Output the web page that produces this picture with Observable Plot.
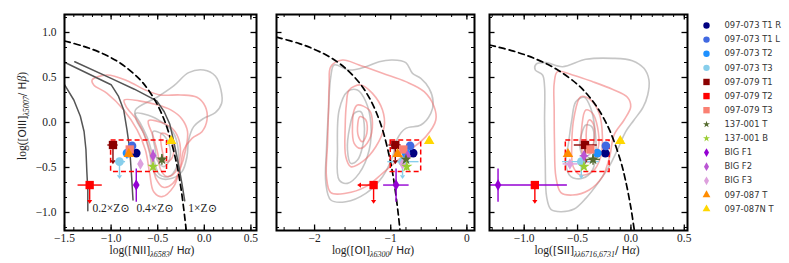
<!DOCTYPE html>
<html><head><meta charset="utf-8">
<script src="https://cdn.jsdelivr.net/npm/d3@7"></script>
<script src="https://cdn.jsdelivr.net/npm/@observablehq/plot@0.6"></script>
<style>
body{margin:0;background:#fff;}
#chart{position:relative;width:789px;height:263px;overflow:hidden;background:#fff;}
#chart svg{position:absolute;top:0;overflow:visible;}
</style></head><body><div id="chart"></div>
<script>
// ---------------- data ----------------
const names = ["097-073 T1 R","097-073 T1 L","097-073 T2","097-073 T3","097-079 T1","097-079 T2","097-079 T3","137-001 T","137-001 B","BIG F1","BIG F2","BIG F3","097-087 T","097-087N T"];
const colors = ["#000080","#4169e1","#1e90ff","#87ceeb","#8b0000","#ff0000","#fa8072","#556b2f","#9acd32","#9400d3","#ba55d3","#dda0dd","#ff8c00","#ffd700"];
const shapes = ["circle","circle","circle","circle","square","square","square","star","star","diamond","diamond","diamond","triangle","triangle"];

const oiii = [-0.34,-0.26,-0.34,-0.435,-0.25,-0.695,-0.30,-0.41,-0.49,-0.695,-0.37,-0.46,-0.35,-0.205];
const nii  = [-0.73,-0.775,-0.83,-0.91,-0.98,-1.23,-0.80,-0.455,-0.55,-0.73,-0.55,-0.685,-0.81,-0.355];
const oi   = [-0.705,-0.745,-0.80,-0.845,-0.94,-1.225,-0.835,-0.80,-0.79,-0.93,-0.78,-0.845,-0.91,-0.495];
const sii  = [-0.24,-0.235,-0.315,-0.465,-0.43,-0.90,-0.38,-0.355,-0.44,-1.245,-0.44,-0.572,-0.59,-0.10];

const nii_xerr = [[-0.76,-0.70],null,[-0.86,-0.80],[-0.97,-0.85],[-1.04,-0.93],[-1.36,-1.10],null,[-0.49,-0.42],[-0.57,-0.53],null,null,null,null,null];
const nii_yerr = [[-0.37,-0.31],null,[-0.40,-0.30],null,null,null,null,[-0.47,-0.35],[-0.52,-0.46],[-0.88,-0.51],[-0.44,-0.30],[-0.50,-0.42],[-0.39,-0.31],null];
const oi_xerr  = [null,null,null,[-1.045,-0.635],[-1.03,-0.87],null,null,[-0.84,-0.76],null,[-1.10,-0.765],null,null,null,null];
const oi_yerr  = [null,null,null,null,null,null,null,[-0.46,-0.36],[-0.53,-0.46],[-0.88,-0.51],null,null,null,null];
const sii_xerr = [null,null,[-0.35,-0.28],[-0.645,-0.30],[-0.535,-0.32],null,null,[-0.42,-0.29],null,[-1.4,-0.60],[-0.48,-0.40],[-0.64,-0.50],null,[-0.13,-0.07]];
const sii_yerr = [null,null,null,null,null,null,null,[-0.47,-0.35],null,[-0.88,-0.51],[-0.42,-0.32],null,null,[-0.24,-0.17]];

const ulim_idx = [3,4,5];
const ulim_end = [-0.585,-0.42,-0.86];
const oi_xlim_idx = [5];
const oi_xlim_end = [-1.39];

// demarcation curves
const kauffmann = [[-1.5,0.906],[-1.3,0.848],[-1.1,0.770],[-0.9,0.658],[-0.7,0.487],[-0.6,0.362],[-0.5,0.191],[-0.4,-0.056],[-0.3,-0.443],[-0.25,-0.733],[-0.2,-1.14],[-0.194,-1.2]];
const kewley_oi = [[-2.5,0.948],[-2.2,0.877],[-2.0,0.812],[-1.8,0.727],[-1.6,0.607],[-1.4,0.429],[-1.3,0.302],[-1.2,0.133],[-1.1,-0.101],[-1.0,-0.450],[-0.95,-0.698],[-0.9,-1.025],[-0.878,-1.2]];
const kewley_sii = [[-1.325,0.861],[-1.1,0.793],[-0.9,0.710],[-0.7,0.594],[-0.5,0.422],[-0.4,0.300],[-0.3,0.139],[-0.2,-0.085],[-0.1,-0.414],[-0.05,-0.646],[0.0,-0.95],[0.032,-1.2]];

// metallicity tracks
const track_02 = [[-1.5,0.42],[-1.40,0.25],[-1.33,0.07],[-1.29,-0.1],[-1.27,-0.3],[-1.26,-0.55],[-1.25,-0.75],[-1.25,-0.98]];
const track_04 = [[-1.5,0.67],[-1.2,0.52],[-1.0,0.42],[-0.92,0.29],[-0.865,0.14],[-0.83,-0.08],[-0.80,-0.3],[-0.78,-0.6],[-0.765,-0.86]];
const track_1  = [[-1.39,0.675],[-1.0,0.49],[-0.75,0.37],[-0.51,0.24],[-0.43,0.12],[-0.37,-0.02],[-0.33,-0.2],[-0.28,-0.45],[-0.24,-0.68],[-0.21,-0.87]];
const zlabel_text = ["0.2×Z⊙","0.4×Z⊙","1×Z⊙"];
const zlabel_x = [-1.2,-0.728,-0.171];
const zlabel_y = [-0.95,-0.95,-0.95];

// SDSS contours
const nii_red_a = [[-1.204,0.472],[-1.043,0.528],[-0.829,0.465],[-0.632,0.361],[-0.471,0.306],[-0.257,0.306],[-0.079,0.28],[0.011,0.176],[0.029,0.028],[-0.025,-0.102],[-0.132,-0.176],[-0.221,-0.306],[-0.257,-0.491],[-0.329,-0.713],[-0.454,-0.824],[-0.543,-0.769],[-0.586,-0.565],[-0.632,-0.306],[-0.721,-0.083],[-0.864,0.139],[-1.043,0.324],[-1.186,0.417]];
const nii_red_b = [[-0.86,0.25],[-0.7,0.24],[-0.52,0.2],[-0.36,0.14],[-0.24,0.04],[-0.18,-0.1],[-0.2,-0.3],[-0.26,-0.52],[-0.34,-0.68],[-0.44,-0.72],[-0.52,-0.62],[-0.56,-0.42],[-0.62,-0.2],[-0.72,0.02],[-0.84,0.18]];
const nii_red_c = [[-0.6,0.02],[-0.46,0.0],[-0.34,-0.07],[-0.27,-0.2],[-0.26,-0.38],[-0.31,-0.55],[-0.4,-0.6],[-0.47,-0.52],[-0.5,-0.34],[-0.55,-0.15]];
const nii_red_d = [[-0.46,-0.12],[-0.38,-0.15],[-0.33,-0.26],[-0.35,-0.4],[-0.41,-0.44],[-0.45,-0.32]];
const nii_gray_a = [[-0.739,0.139],[-0.507,0.28],[-0.329,0.406],[-0.168,0.554],[-0.007,0.583],[0.118,0.517],[0.179,0.361],[0.186,0.213],[0.118,0.109],[-0.007,0.046],[-0.114,-0.046],[-0.168,-0.194],[-0.186,-0.38],[-0.239,-0.546],[-0.346,-0.62],[-0.471,-0.62],[-0.55,-0.528],[-0.586,-0.343],[-0.65,-0.12],[-0.729,0.028]];
const nii_gray_b = [[-0.74,0.1],[-0.6,0.08],[-0.45,0.0],[-0.34,-0.1],[-0.28,-0.3],[-0.3,-0.5],[-0.38,-0.6],[-0.48,-0.58],[-0.54,-0.42],[-0.6,-0.2],[-0.68,-0.02]];
const nii_gray_c = [[-0.55,-0.1],[-0.45,-0.13],[-0.38,-0.24],[-0.37,-0.4],[-0.43,-0.49],[-0.5,-0.43],[-0.53,-0.28]];

const oi_red_a = [[-1.787,0.62],[-1.633,0.694],[-1.415,0.639],[-1.108,0.546],[-0.802,0.454],[-0.561,0.343],[-0.43,0.176],[-0.408,0.028],[-0.539,-0.157],[-0.802,-0.343],[-1.108,-0.565],[-1.327,-0.713],[-1.59,-0.787],[-1.787,-0.78],[-1.844,-0.602],[-1.83,-0.232],[-1.817,0.139],[-1.808,0.435]];
const oi_red_b = [[-1.546,0.361],[-1.393,0.417],[-1.24,0.324],[-1.108,0.139],[-1.086,-0.046],[-1.196,-0.269],[-1.371,-0.435],[-1.524,-0.491],[-1.59,-0.38],[-1.598,-0.046],[-1.581,0.213]];
const oi_red_c = [[-1.437,0.194],[-1.283,0.139],[-1.24,-0.009],[-1.283,-0.194],[-1.393,-0.287],[-1.48,-0.231],[-1.502,-0.009],[-1.48,0.139]];
const oi_red_d = [[-1.406,0.065],[-1.327,0.028],[-1.314,-0.12],[-1.371,-0.213],[-1.423,-0.157],[-1.432,-0.009]];
const oi_gray_a = [[-1.743,0.639],[-1.546,0.583],[-1.327,0.62],[-1.152,0.676],[-0.977,0.694],[-0.802,0.665],[-0.714,0.546],[-0.605,0.491],[-0.496,0.38],[-0.443,0.231],[-0.474,0.102],[-0.605,-0.028],[-0.802,-0.065],[-0.911,-0.176],[-0.977,-0.38],[-1.108,-0.602],[-1.327,-0.787],[-1.59,-0.88],[-1.787,-0.861],[-1.852,-0.676],[-1.844,-0.306],[-1.817,0.139],[-1.787,0.509]];
const oi_gray_b = [[-1.677,0.139],[-1.568,0.343],[-1.437,0.361],[-1.327,0.231],[-1.261,-0.009],[-1.283,-0.306],[-1.415,-0.565],[-1.568,-0.676],[-1.677,-0.639],[-1.699,-0.306]];
const oi_gray_c = [[-1.48,0.102],[-1.393,0.12],[-1.349,-0.009],[-1.371,-0.269],[-1.437,-0.417],[-1.524,-0.454],[-1.568,-0.306],[-1.537,-0.046]];

const sii_red_a = [[-0.688,0.565],[-0.547,0.528],[-0.36,0.454],[-0.174,0.369],[-0.033,0.28],[-0.002,0.176],[-0.064,0.028],[-0.158,-0.139],[-0.199,-0.38],[-0.267,-0.602],[-0.392,-0.75],[-0.547,-0.806],[-0.656,-0.78],[-0.703,-0.602],[-0.716,-0.231],[-0.719,0.139],[-0.719,0.435]];
const sii_red_b = [[-0.47,0.287],[-0.376,0.25],[-0.298,0.102],[-0.267,-0.157],[-0.283,-0.38],[-0.36,-0.546],[-0.47,-0.583],[-0.541,-0.491],[-0.554,-0.231],[-0.532,0.065]];
const sii_red_c = [[-0.423,0.139],[-0.36,0.102],[-0.314,-0.046],[-0.304,-0.269],[-0.36,-0.417],[-0.423,-0.435],[-0.46,-0.306],[-0.46,-0.046]];
const sii_red_d = [[-0.392,0.028],[-0.355,-0.009],[-0.342,-0.157],[-0.367,-0.269],[-0.407,-0.231],[-0.417,-0.083]];
const sii_gray_a = [[-0.896,0.583],[-0.89,0.646],[-0.797,0.665],[-0.641,0.62],[-0.423,0.702],[-0.174,0.713],[0.013,0.687],[0.122,0.602],[0.169,0.472],[0.157,0.306],[0.113,0.168],[0.029,0.028],[-0.049,-0.102],[-0.127,-0.306],[-0.205,-0.491],[-0.298,-0.657],[-0.423,-0.843],[-0.532,-0.961],[-0.656,-0.991],[-0.75,-0.965],[-0.79,-0.824],[-0.803,-0.417],[-0.809,0.028],[-0.809,0.398],[-0.828,0.528]];
const sii_gray_b = [[-0.516,0.231],[-0.438,0.28],[-0.376,0.157],[-0.336,-0.083],[-0.329,-0.343],[-0.36,-0.528],[-0.454,-0.62],[-0.563,-0.602],[-0.61,-0.454],[-0.585,-0.231],[-0.554,0.028]];
const sii_gray_c = [[-0.423,-0.028],[-0.367,-0.046],[-0.345,-0.194],[-0.376,-0.343],[-0.438,-0.38],[-0.479,-0.269],[-0.46,-0.12]];

// selection boxes [x1,x2,y1,y2]
const nii_box = [-1.0,-0.4,-0.55,-0.2];
const oi_box  = [-1.0,-0.6,-0.55,-0.2];
const sii_box = [-0.61,-0.2,-0.55,-0.2];

// ticks
const yMajor = [-1.0,-0.5,0.0,0.5,1.0];
const nii_xMajor = [-1.5,-1.0,-0.5,0.0,0.5];
const oi_xMajor = [-2,-1,0];
const sii_xMajor = [-1.0,-0.5,0.0,0.5];

// ---------------- drawing ----------------
const SERIF = "'Liberation Serif','DejaVu Serif',serif";
const SANS = "'DejaVu Sans','Liberation Sans',sans-serif";
const YD = [-1.2, 1.2];
const thinDiamond = {draw(ctx, size){const r=Math.sqrt(size/Math.PI);const h=r*1.25,w=r*0.72;ctx.moveTo(0,-h);ctx.lineTo(w,0);ctx.lineTo(0,h);ctx.lineTo(-w,0);ctx.closePath();}};
const caretDown = {draw(ctx, size){const r=Math.sqrt(size/Math.PI);ctx.moveTo(-r,0);ctx.lineTo(r,0);ctx.lineTo(0,1.5*r);ctx.closePath();}};
const caretLeft = {draw(ctx, size){const r=Math.sqrt(size/Math.PI);ctx.moveTo(0,-r);ctx.lineTo(0,r);ctx.lineTo(-1.5*r,0);ctx.closePath();}};
const shapeSym = {circle:"circle", square:"square", star:"star", diamond: thinDiamond, triangle:"triangle"};
const shapeR = {circle:4.3, square:4.7, star:3.6, diamond:4.6, triangle:3.9};
const legR = {circle:3.2, square:3.6, star:2.2, diamond:3.5, triangle:2.9};

const chart = document.getElementById("chart");

function panel(cfg){
  const {left, width, mL, mR, xd, xMajor, xMinorStep, fmt, xs, xerr, yerr, reds, grays, curve, box, yLabels} = cfg;
  const mT = 14, mB = 33, H = 263;
  const kx = (xd[1]-xd[0])/(width-mL-mR), ky = (YD[1]-YD[0])/(H-mT-mB);
  const pts = names.map((n,i)=>({name:n, color:colors[i], shape:shapes[i], x:xs[i], y:oiii[i]}));
  const errs = [];
  pts.forEach((p,i)=>{
    if (xerr[i]) errs.push({x1:xerr[i][0], x2:xerr[i][1], y1:p.y, y2:p.y, color:p.color});
    if (yerr[i]) errs.push({x1:p.x, x2:p.x, y1:yerr[i][0], y2:yerr[i][1], color:p.color});
  });
  const downs = ulim_idx.map((i,k)=>({x:pts[i].x, y1:pts[i].y, y2:ulim_end[k], color:pts[i].color}));
  const lefts = (cfg.xlimIdx||[]).map((i,k)=>({y:pts[i].y, x1:pts[i].x, x2:cfg.xlimEnd[k], color:pts[i].color}));
  const xMinor = d3.range(Math.ceil(xd[0]/xMinorStep-1e-9), Math.floor(xd[1]/xMinorStep+1e-9)+1).map(i=>+(i*xMinorStep).toFixed(4));
  const yMinor = d3.range(-7, 8).map(i=>i/6);
  const line = (arr, opts) => Plot.line(arr, {x:d=>d[0], y:d=>d[1], clip:true, ...opts});
  const marks = [];
  grays.forEach(c=>marks.push(line(c,{stroke:"#a8a8a8", strokeOpacity:0.65, strokeWidth:1.6, curve:"catmull-rom-closed"})));
  reds.forEach(c=>marks.push(line(c,{stroke:"#f06060", strokeOpacity:0.5, strokeWidth:1.6, curve:"catmull-rom-closed"})));
  if (cfg.tracks) cfg.tracks.forEach(t=>marks.push(line(t,{stroke:"#555", strokeWidth:1.5, curve:"linear"})));
  marks.push(line(curve,{stroke:"black", strokeWidth:1.7, strokeDasharray:"6,4", curve:"catmull-rom"}));
  marks.push(Plot.rect([box],{x1:d=>d[0], x2:d=>d[1], y1:d=>d[2], y2:d=>d[3], fill:"none", stroke:"red", strokeWidth:1.5, strokeDasharray:"5,3"}));
  marks.push(Plot.link(errs,{x1:"x1",x2:"x2",y1:"y1",y2:"y2",stroke:"color",strokeWidth:1.4,clip:true}));
  marks.push(Plot.link(downs,{x1:"x",x2:"x",y1:"y1",y2:"y2",stroke:"color",strokeWidth:1.4}));
  marks.push(Plot.dot(downs,{x:"x",y:"y2",symbol:caretDown,r:2.6,fill:"color"}));
  if (lefts.length){
    marks.push(Plot.link(lefts,{x1:"x1",x2:"x2",y1:"y",y2:"y",stroke:"color",strokeWidth:1.4}));
    marks.push(Plot.dot(lefts,{x:"x2",y:"y",symbol:caretLeft,r:2.6,fill:"color"}));
  }
  ["circle","square","diamond","triangle","star"].forEach(s=>{
    marks.push(Plot.dot(pts.filter(p=>p.shape===s),{x:"x",y:"y",symbol:shapeSym[s],r:shapeR[s],fill:"color",stroke:"none"}));
  });
  if (cfg.zlabels) marks.push(Plot.text(cfg.zlabels,{x:"x",y:"y",text:"t",textAnchor:"start",fontSize:11.5,fill:"#222",ariaLabel:"zlabel"}));
  // ticks (inward, all sides)
  const yB = YD[0], yT = YD[1];
  const xL = xd[0], xR = xd[1];
  marks.push(Plot.ruleX(xMinor,{y1:yB, y2:yB+3*ky, stroke:"black", strokeWidth:1}));
  marks.push(Plot.ruleX(xMinor,{y1:yT, y2:yT-3*ky, stroke:"black", strokeWidth:1}));
  marks.push(Plot.ruleX(xMajor,{y1:yB, y2:yB+5.5*ky, stroke:"black", strokeWidth:1.3}));
  marks.push(Plot.ruleX(xMajor,{y1:yT, y2:yT-5.5*ky, stroke:"black", strokeWidth:1.3}));
  marks.push(Plot.ruleY(yMinor,{x1:xL, x2:xL+3*kx, stroke:"black", strokeWidth:1}));
  marks.push(Plot.ruleY(yMinor,{x1:xR, x2:xR-3*kx, stroke:"black", strokeWidth:1}));
  marks.push(Plot.ruleY(yMajor,{x1:xL, x2:xL+5.5*kx, stroke:"black", strokeWidth:1.3}));
  marks.push(Plot.ruleY(yMajor,{x1:xR, x2:xR-5.5*kx, stroke:"black", strokeWidth:1.3}));
  marks.push(Plot.frame({stroke:"black", strokeWidth:2}));
  marks.push(Plot.axisX({anchor:"bottom", ticks:xMajor, tickSize:0, tickPadding:3, tickFormat:d3.format(fmt), label:null, fontSize:11.5}));
  if (yLabels) marks.push(Plot.axisY({anchor:"left", ticks:yMajor, tickSize:0, tickPadding:8, tickFormat:d3.format(".1f"), label:null, fontSize:11.5}));
  const svg = Plot.plot({
    width, height:H, marginLeft:mL, marginRight:mR, marginTop:mT, marginBottom:mB,
    x:{domain:xd}, y:{domain:YD, axis: yLabels ? undefined : null},
    style:{fontFamily:SERIF, fontSize:"11.5px", color:"#222", background:"transparent", overflow:"visible"},
    marks
  });
  svg.style.left = left + "px";
  chart.appendChild(svg);
  // Z-sun subscripts
  d3.select(svg).selectAll('g[aria-label="zlabel"] text').each(function(){
    const s = this.textContent; const base = s.replace("⊙","");
    const t = d3.select(this); t.text(null);
    t.append("tspan").text(base);
    t.append("tspan").text("⊙").attr("font-size","8px").attr("dy","3");
  });
  return svg;
}

function label(svg, x, y, rot, parts){
  const t = d3.select(svg).append("text")
    .attr("transform", `translate(${x},${y}) rotate(${rot})`)
    .attr("text-anchor","middle").attr("fill","#222");
  parts.forEach(p=>{
    const s = t.append("tspan").text(p[0]).attr("font-family", p[1]==="s"?SANS:SERIF)
      .attr("font-size", p[2]+"px");
    if (p[3]) s.attr("dy", p[3]);
    if (p[4]) s.attr("font-style", "italic");
  });
}

const zl = zlabel_text.map((t,i)=>({t, x:zlabel_x[i], y:zlabel_y[i]}));

const s1 = panel({left:0, width:262, mL:64, mR:6, xd:[-1.5,0.56], xMajor:nii_xMajor, xMinorStep:0.1, fmt:".1f",
  xs:nii, xerr:nii_xerr, yerr:nii_yerr, reds:[nii_red_a,nii_red_b,nii_red_c,nii_red_d], grays:[nii_gray_a,nii_gray_b,nii_gray_c],
  curve:kauffmann, box:nii_box, yLabels:true, tracks:[track_02,track_04,track_1], zlabels:zl});
const s2 = panel({left:270, width:210, mL:6, mR:6, xd:[-2.5,0.1], xMajor:oi_xMajor, xMinorStep:0.2, fmt:"d",
  xs:oi, xerr:oi_xerr, yerr:oi_yerr, reds:[oi_red_a,oi_red_b,oi_red_c,oi_red_d], grays:[oi_gray_a,oi_gray_b,oi_gray_c],
  curve:kewley_oi, box:oi_box, yLabels:false, xlimIdx:oi_xlim_idx, xlimEnd:oi_xlim_end});
const s3 = panel({left:483, width:210, mL:6, mR:6, xd:[-1.325,0.53], xMajor:sii_xMajor, xMinorStep:0.1, fmt:".1f",
  xs:sii, xerr:sii_xerr, yerr:sii_yerr, reds:[sii_red_a,sii_red_b,sii_red_c,sii_red_d], grays:[sii_gray_a,sii_gray_b,sii_gray_c],
  curve:kewley_sii, box:sii_box, yLabels:false});

label(s1, 152, 254, 0, [["log(",0,11.5],["[NII]","s",10.5],["λ6583",0,8,3,1],["/","s",10.5,-3],[" H","s",10.5],["α",0,11.5,0,1],[")",0,11.5]]);
label(s2, 103, 254, 0, [["log(",0,11.5],["[OI]","s",10.5],["λ6300",0,8,3,1],["/","s",10.5,-3],[" H","s",10.5],["α",0,11.5,0,1],[")",0,11.5]]);
label(s3, 104, 254, 0, [["log(",0,11.5],["[SII]","s",10.5],["λλ6716,6731",0,8,3,1],["/","s",10.5,-3],[" H","s",10.5],["α",0,11.5,0,1],[")",0,11.5]]);
label(s1, 26, 116, -90, [["log(",0,11.5],["[OIII]","s",10.5],["λ5007",0,8,3,1],["/","s",10.5,-3],[" H","s",10.5],["β",0,11.5,0,1],[")",0,11.5]]);

// legend
const leg = names.map((n,i)=>({name:n, color:colors[i], shape:shapes[i], i}));
const legMarks = ["circle","square","diamond","triangle","star"].map(s=>
  Plot.dot(leg.filter(d=>d.shape===s),{x:()=>13, y:"i", symbol:shapeSym[s], r:legR[s], fill:"color"}));
legMarks.push(Plot.text(leg,{x:()=>31, y:"i", text:"name", textAnchor:"start", fontSize:8.4, fill:"#333", fontFamily:SANS}));
const legSvg = Plot.plot({
  width:96, height:263, margin:0,
  x:{type:"identity", axis:null}, y:{domain:[0,13], range:[25,208.5], axis:null},
  style:{background:"transparent", overflow:"visible"},
  marks: legMarks
});
legSvg.style.left = "693px";
chart.appendChild(legSvg);
</script></body></html>
